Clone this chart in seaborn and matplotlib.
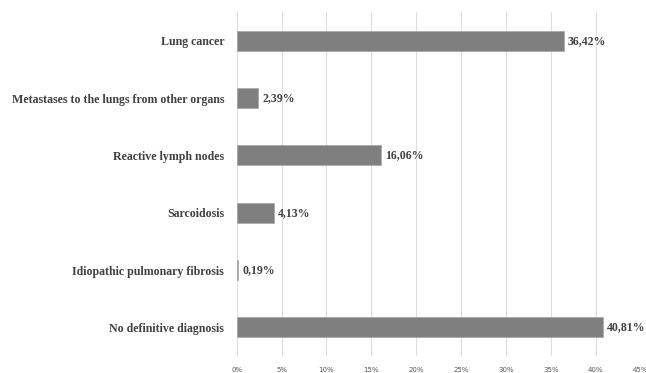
import matplotlib
matplotlib.use("Agg")
import matplotlib.pyplot as plt
import seaborn as sns
import pandas as pd
from matplotlib.ticker import FuncFormatter

categories = [
    "Lung cancer",
    "Metastases to the lungs from other organs",
    "Reactive lymph nodes",
    "Sarcoidosis",
    "Idiopathic pulmonary fibrosis",
    "No definitive diagnosis",
]
values = [36.42, 2.39, 16.06, 4.13, 0.19, 40.81]
value_labels = ["36,42%", "2,39%", "16,06%", "4,13%", "0,19%", "40,81%"]
xticks = [0, 5, 10, 15, 20, 25, 30, 35, 40, 45]

df = pd.DataFrame({"category": categories, "value": values})

sns.set_style("white")
plt.rcParams["font.family"] = ["Liberation Serif", "DejaVu Serif"]

fig = plt.figure(figsize=(6.46, 3.73), dpi=100)
ax = fig.add_axes([236.7 / 646, 1 - 356 / 373, 404 / 646, 344 / 373])

sns.barplot(data=df, x="value", y="category", orient="h", color="#7f7f7f",
            width=0.35, edgecolor="#a6a6a6", linewidth=0.5, saturation=1, ax=ax, zorder=3)

ax.set_xlim(0, 45)
ax.set_xticks(xticks)
ax.xaxis.set_major_formatter(FuncFormatter(lambda v, p: f"{int(v)}%"))
ax.grid(axis="x", color="#dedede", linewidth=0.75, zorder=0)
ax.set_axisbelow(True)
for s in ax.spines.values():
    s.set_visible(False)
ax.set_xlabel("")
ax.set_ylabel("")
ax.tick_params(axis="x", length=0, labelsize=5, labelcolor="#595959", pad=8,
               labelfontfamily="DejaVu Sans")
ax.tick_params(axis="y", length=0, pad=9)
for lab in ax.get_yticklabels():
    lab.set_fontweight("bold")
    lab.set_fontsize(8.6)
    lab.set_color("#404040")

for i, (v, t) in enumerate(zip(values, value_labels)):
    ax.text(v + 0.45, i, t, va="center", ha="left", fontsize=8.5, fontweight="bold",
            color="#404040")

fig.savefig("out.png", dpi=100)
